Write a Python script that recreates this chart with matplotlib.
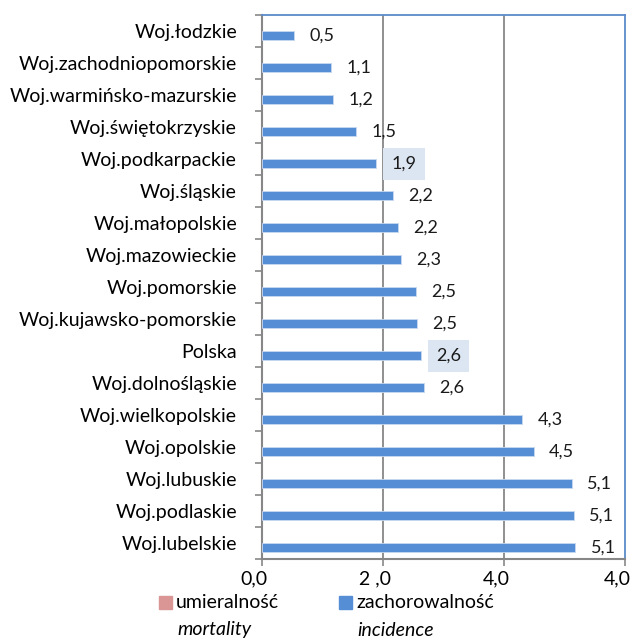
import matplotlib
matplotlib.use("Agg")
import matplotlib.pyplot as plt
import matplotlib.transforms as mtransforms
from matplotlib.patches import Rectangle

# ==============================================================================
# DATA
# ==============================================================================
regions = ["Woj.łodzkie", "Woj.zachodniopomorskie", "Woj.warmińsko-mazurskie",
           "Woj.świętokrzyskie", "Woj.podkarpackie", "Woj.śląskie",
           "Woj.małopolskie", "Woj.mazowieckie", "Woj.pomorskie",
           "Woj.kujawsko-pomorskie", "Polska", "Woj.dolnośląskie",
           "Woj.wielkopolskie", "Woj.opolskie", "Woj.lubuskie",
           "Woj.podlaskie", "Woj.lubelskie"]
incidence = [0.53, 1.14, 1.17, 1.55, 1.89, 2.17, 2.25, 2.29, 2.54, 2.56,
             2.62, 2.67, 4.30, 4.49, 5.12, 5.15, 5.18]
value_labels = ["0,5", "1,1", "1,2", "1,5", "1,9", "2,2", "2,2", "2,3", "2,5",
                "2,5", "2,6", "2,6", "4,3", "4,5", "5,1", "5,1", "5,1"]
highlighted = ["Woj.podkarpackie", "Polska"]
x_ticks = [0, 2, 4, 6]
x_tick_labels = ["0,0", "2 ,0", "4,0", "4,0"]

BLUE = "#558ed5"
PINK = "#d99694"
GREY = "#878787"
FRAME = "#5b8bc9"
FONT = "Lato"
FS = 14

plt.rcParams["font.family"] = [FONT, "DejaVu Sans"]

fig = plt.figure(figsize=(6.36, 6.39), dpi=100)
ax = fig.add_axes([262 / 636, 80 / 639, 363 / 636, 544 / 639])

y = list(range(len(regions)))
ax.barh([v + 0.15 for v in y], incidence, height=0.28, color=BLUE,
        edgecolor="#c6d9f1", linewidth=0.6, zorder=3)

for i, (val, lab, name) in enumerate(zip(incidence, value_labels, regions)):
    box = None
    if name in highlighted:
        box = dict(boxstyle="square,pad=0.45", facecolor="#dce6f2", edgecolor="none")
    ax.annotate(lab, (val, i + 0.15), xytext=(20, 0), textcoords="offset points",
                ha="center", va="center", fontsize=13, color="#1a1a1a", bbox=box)

ax.set_xlim(0, 6)
ax.set_ylim(len(regions) - 0.5, -0.5)
ax.set_xticks(x_ticks)
ax.set_xticklabels(x_tick_labels, fontsize=FS)
ax.set_yticks(y)
ax.set_yticklabels(regions, fontsize=FS)
ax.tick_params(axis="y", length=0, pad=18)
ax.set_yticks([v + 0.5 for v in y[:-1]] + [-0.5, len(regions) - 0.5], minor=True)
ax.tick_params(axis="y", which="minor", length=5, color=GREY, width=1.2)
ax.tick_params(axis="x", length=5, color=GREY, width=1.2, pad=3)

# x tick labels sit a little left of their ticks in the original
shift = mtransforms.ScaledTranslation(-8 / 100, 0, fig.dpi_scale_trans)
for t in ax.xaxis.get_majorticklabels():
    t.set_transform(t.get_transform() + shift)

for v in [2, 4]:
    ax.axvline(v, color=GREY, lw=1.3, zorder=1)

ax.spines["left"].set_color(GREY)
ax.spines["bottom"].set_color(GREY)
ax.spines["left"].set_linewidth(1.5)
ax.spines["bottom"].set_linewidth(1.5)
ax.spines["top"].set_color(FRAME)
ax.spines["right"].set_color(FRAME)
ax.spines["top"].set_linewidth(1.3)
ax.spines["right"].set_linewidth(1.3)

# legend (manual, two lines per entry)
def px(x, y):
    return x / 636, 1 - y / 639

for color, label, eng, x0 in [(PINK, "umieralność", "mortality", 159),
                              (BLUE, "zachorowalność", "incidence", 339)]:
    fig.add_artist(Rectangle(px(x0, 609), 13 / 636, 13 / 639, color=color,
                             transform=fig.transFigure))
    fig.text(*px(x0 + 17, 603), label, fontsize=FS, va="center", ha="left")
    fig.text(*px(x0 + 18, 630), eng, fontsize=FS, va="center", ha="left",
             style="italic")

fig.savefig("out.png", dpi=100)
